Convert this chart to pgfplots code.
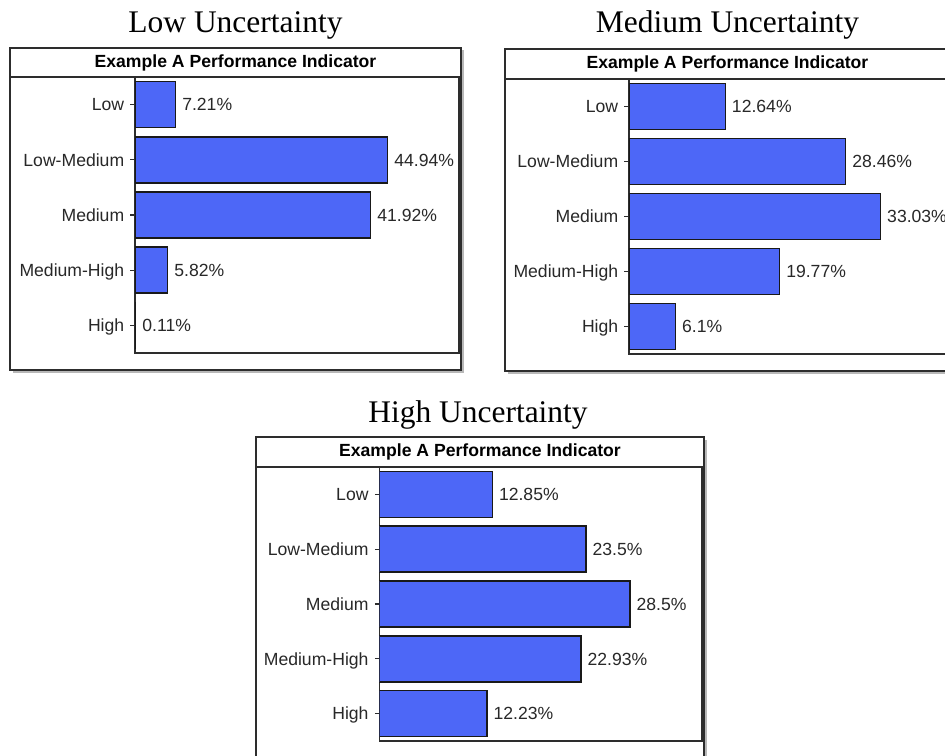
\documentclass[border=0pt]{standalone}
\usepackage{pgfplots}
\usepackage{pgfplotstable}
\pgfplotsset{compat=1.18}
\usepackage{fontspec}
\setmainfont{Liberation Sans}
\newfontfamily\titleserif{Liberation Serif}

\definecolor{barblue}{RGB}{77,103,247}
\definecolor{framegray}{RGB}{45,45,45}
\definecolor{labelgray}{RGB}{40,40,40}

% category index / share of outcomes (%)
\pgfplotstableread{
cat value
0 7.21
1 44.94
2 41.92
3 5.82
4 0.11
}\lowdata
\pgfplotstableread{
cat value
0 12.64
1 28.46
2 33.03
3 19.77
4 6.1
}\meddata
\pgfplotstableread{
cat value
0 12.85
1 23.5
2 28.5
3 22.93
4 12.23
}\highdata

\pgfplotsset{
  indicator/.style={
    xbar, scale only axis, anchor=south west,
    xmin=0, ymin=-0.5, ymax=4.5, y dir=reverse,
    ytick={0,1,2,3,4},
    yticklabels={Low,Low-Medium,Medium,Medium-High,High},
    xtick=\empty, ytick pos=left, tick align=outside,
    major tick length=3.4pt,
    tick style={line width=0.9pt, color=framegray},
    axis line style={line width=1.1pt, color=framegray},
    yticklabel style={font=\fontsize{13.2}{15}\selectfont, text=labelgray,
      inner sep=0pt, xshift=-4.5pt, text height=9.4pt, text depth=0pt},
    bar width=34.5pt,
    point meta=x,
    nodes near coords={\pgfmathprintnumber[fixed,precision=2,assume math mode=true]{\pgfplotspointmeta}\%},
    nodes near coords style={font=\fontsize{13.2}{15}\selectfont, text=labelgray,
      inner sep=0pt, xshift=4.5pt, anchor=west, text height=9.4pt, text depth=0pt},
  },
  indicator bars/.style={fill=barblue, draw=black!90, line width=1.1pt},
}

\newcommand\panelframe[5]{%
  \fill[black!28] (#1+2.5,#2+2.5) rectangle (#3+2.5,#4+2.5);
  \draw[framegray, fill=white, line width=1.2pt] (#1,#2) rectangle (#3,#4);
  \draw[framegray, line width=1.2pt] (#1,#5) -- (#3,#5);
}

\begin{document}
\begin{tikzpicture}
\useasboundingbox (0,0) rectangle (708.75pt,-567pt);
\clip (0,0) rectangle (708.75pt,-567pt);

\begin{scope}[x=0.75pt, y=-0.75pt]
  % panel frames with drop shadow and title band
  \panelframe{10}{48}{461}{370}{77}
  \panelframe{505}{49}{950}{371}{79}
  \panelframe{256}{437}{704}{758}{467}

  \node[font=\bfseries\fontsize{13.2}{15}\selectfont] at (235.5,62.5) {Example A Performance Indicator};
  \node[font=\bfseries\fontsize{13.2}{15}\selectfont] at (727.5,64) {Example A Performance Indicator};
  \node[font=\bfseries\fontsize{13.2}{15}\selectfont] at (480,452) {Example A Performance Indicator};

  \node[anchor=base, font=\titleserif\fontsize{23.6}{28}\selectfont] at (235.5,33) {Low Uncertainty};
  \node[anchor=base, font=\titleserif\fontsize{23.6}{28}\selectfont] at (727.5,33) {Medium Uncertainty};
  \node[anchor=base, font=\titleserif\fontsize{23.6}{28}\selectfont] at (478,422) {High Uncertainty};
\end{scope}

\begin{axis}[indicator, at={({135*0.75pt},{-353*0.75pt})},
  width=243pt, height=207pt, xmax=57.65]
  \addplot[indicator bars] table[x=value, y=cat] {\lowdata};
\end{axis}

\begin{axis}[indicator, at={({629*0.75pt},{-354*0.75pt})},
  width=239.25pt, height=206.25pt, xmax=41.9]
  \addplot[indicator bars] table[x=value, y=cat] {\meddata};
\end{axis}

\begin{axis}[indicator, at={({379.3*0.75pt},{-741*0.75pt})},
  width=242pt, height=205.5pt, xmax=36.7]
  \addplot[indicator bars] table[x=value, y=cat] {\highdata};
\end{axis}
\end{tikzpicture}
\end{document}
